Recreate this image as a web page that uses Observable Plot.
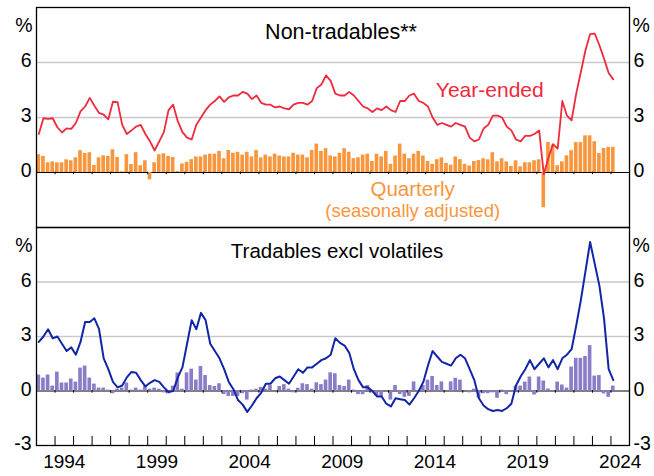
<!DOCTYPE html>
<html><head><meta charset="utf-8">
<script src="https://cdn.jsdelivr.net/npm/d3@7"></script>
<script src="https://cdn.jsdelivr.net/npm/@observablehq/plot@0.6"></script>
<style>
body{margin:0;background:#fff;}
#chart{width:654px;height:476px;font-family:"Liberation Sans",Arial,sans-serif;}
#chart svg{display:block;overflow:visible;}
</style></head><body><div id="chart"></div>
<script>
// Quarterly observations, first quarter = 1993 Q1
const startYear = 1993;
const nonTradYE = [2.1,2.96,2.93,2.96,2.47,2.18,2.41,2.38,2.7,3.33,3.6,4.07,3.64,3.25,3.16,2.9,3.86,3.84,
  2.6,2.1,2.3,2.5,2.6,2.1,1.7,1.2,1.7,2.2,3.4,3.7,2.8,2.2,
  1.9,1.8,2.6,3.0,3.4,3.7,3.9,4.15,3.85,4.1,4.2,4.2,4.4,4.3,4.0,4.2,
  3.8,3.7,3.7,3.55,3.6,3.5,3.45,3.7,3.8,3.8,3.7,3.9,4.6,4.8,5.3,5.0,
  4.3,4.2,4.2,4.4,4.2,3.9,3.6,3.5,3.3,3.5,3.4,3.6,3.4,3.3,3.9,3.9,
  4.2,4.3,3.9,3.8,3.6,3.0,2.6,2.7,2.6,2.5,2.7,2.6,2.5,1.9,1.7,1.8,
  2.4,2.6,3.1,3.1,3.0,2.5,2.3,1.8,1.7,2.0,2.0,2.1,2.3,
  -0.1,0.8,1.55,1.3,3.9,3.1,2.85,4.3,5.48,6.67,7.55,7.58,6.94,6.21,5.43,5.08];
const nonTradQ = [0.97,0.88,0.53,0.58,0.53,0.53,0.69,0.64,0.80,1.19,1.04,1.08,0.38,0.80,0.91,0.88,1.24,0.82,0.04,0.97,0.44,1.08,0.37,0.64,-0.40,0.53,0.97,1.02,0.88,0.82,0.05,0.47,
  0.55,0.7,0.85,0.85,0.95,1.0,1.0,1.15,0.75,1.2,1.05,1.1,0.95,1.1,0.85,1.2,
  0.8,0.95,0.85,1.0,0.9,0.85,0.85,1.05,0.95,0.95,0.8,1.2,1.55,1.15,1.3,0.9,
  0.85,1.05,1.3,1.1,0.75,0.8,0.95,1.0,0.6,1.0,0.85,1.15,0.45,0.9,1.55,1.0,
  0.75,1.0,1.15,0.9,0.6,0.45,0.7,0.8,0.5,0.4,0.85,0.7,0.45,0.35,0.6,0.65,
  0.75,0.69,1.08,0.58,0.75,0.58,0.33,0.64,0.31,0.53,0.53,0.64,0.69,
  -1.92,1.64,1.5,0.37,0.58,0.91,1.19,1.63,1.63,2.0,2.0,1.68,1.04,1.31,1.37,1.37];
const tradYE = [2.7,3.0,3.4,2.9,3.0,2.6,2.2,2.4,2.0,2.7,3.8,3.8,4.0,3.4,1.8,1.2,0.5,0.2,0.3,0.75,1.05,1.0,0.6,0.25,0.45,0.6,0.5,0.2,-0.05,0.0,0.75,1.3,
  2.6,3.9,3.4,4.3,3.9,2.6,2.2,1.8,1.2,0.5,0.1,-0.5,-0.75,-1.15,-0.8,-0.4,
  -0.1,0.4,0.4,0.7,0.8,0.6,0.4,0.8,1.2,1.0,1.3,1.3,1.5,1.7,1.8,2.0,
  2.9,2.65,2.5,2.1,1.2,0.6,0.2,0.2,0.0,-0.3,-0.3,-0.7,-0.85,-0.4,-0.45,-0.5,
  -0.75,-0.4,0.0,0.5,1.4,2.2,1.9,1.6,1.5,1.4,1.8,2.0,1.8,1.2,0.6,-0.4,
  -0.8,-1.0,-1.1,-1.05,-1.1,-0.95,-0.7,0.3,0.8,1.2,1.7,1.2,1.5,1.8,1.3,1.7,
  1.2,1.8,2.0,2.3,3.6,5.0,6.6,8.2,7.0,5.8,4.0,1.2,0.6];
const tradQ = [0.88,0.71,0.88,0.27,1.04,0.44,0.44,0.66,0.49,1.26,1.37,0.71,0.38,0.16,0.16,0.05,-0.15,0.1,0.16,0.44,0.05,0.16,0.05,0.27,0.1,0.16,0.1,-0.1,-0.16,0.27,0.99,0.1,
  1.0,1.2,0.6,1.35,0.85,0.3,0.25,0.4,-0.2,-0.3,-0.3,-0.3,-0.15,-0.5,0.05,0.1,
  0.2,0.1,0.3,0.0,0.25,0.35,0.1,-0.1,0.15,0.4,0.35,0.1,0.45,0.35,0.6,1.0,
  0.95,0.3,0.25,0.6,0.05,-0.2,-0.2,0.3,-0.1,-0.3,-0.3,0.0,-0.5,0.3,-0.2,-0.35,
  -0.3,0.5,0.0,0.3,0.6,0.8,0.3,0.5,0.0,0.5,0.7,0.6,0.0,-0.1,0.1,-0.4,
  -0.15,-0.15,-0.1,-0.4,0.05,-0.2,-0.05,0.27,0.27,0.49,0.77,-0.22,0.77,0.55,0.11,-0.05,
  0.49,0.33,0.16,1.32,1.8,1.8,1.9,2.5,0.82,0.85,-0.16,-0.35,0.27];
const yearLabels = [1994,1999,2004,2009,2014,2019,2024];
const yearTicks = d3.range(1994, 2025);
const topTicks = [0,3,6];
const bottomTicks = [-3,0,3,6];
const gridLines = [3,6];

const FONT = '"Liberation Sans", Arial, sans-serif';
const rowsOf = (ye, q) => ye.map((v, i) => ({t: startYear + i / 4, ye: v, q: q[i]}));

function panel(o) {
  const rows = rowsOf(o.ye, o.q);
  return Plot.plot({
    width: 654, height: o.height,
    marginLeft: 36, marginRight: 25, marginTop: o.marginTop, marginBottom: o.marginBottom,
    x: {domain: [1993, 2025], axis: null},
    y: {domain: [-3, 9], axis: null},
    style: {fontFamily: FONT, background: "white", overflow: "visible", color: "#000"},
    marks: [
      Plot.ruleY(gridLines, {y: d => d, stroke: "#c9c9c9", strokeWidth: 1.3}),
      Plot.ruleY([0], {y: d => d, stroke: "#000", strokeWidth: 1}),
      Plot.rect(rows, {x1: "t", x2: d => d.t + 0.25, y1: () => 0, y2: "q", fill: o.barColor, insetLeft: 0.5, insetRight: 0.5}),
      Plot.ruleX(yearTicks, {x: d => d, y1: () => 0.02, y2: () => -0.12, stroke: "#000", strokeWidth: 1}),
      Plot.line(rows, {x: d => d.t + 0.125, y: "ye", stroke: o.lineColor, strokeWidth: o.lineWidth, curve: "linear"}),
      Plot.frame({stroke: "#000", strokeWidth: 1.3}),
      Plot.text(o.ticks, {y: d => d, text: d => String(d), frameAnchor: "left", textAnchor: "end", dx: -5, dy: -1.5, fontSize: 19.5}),
      Plot.text(o.ticks, {y: d => d, text: d => String(d), frameAnchor: "right", textAnchor: "start", dx: 4, dy: -1.5, fontSize: 19.5}),
      Plot.text(["%"], {text: d => d, frameAnchor: "top-left", textAnchor: "end", dx: -4, dy: 11, fontSize: 19.5}),
      Plot.text(["%"], {text: d => d, frameAnchor: "top-right", textAnchor: "start", dx: 3, dy: 11, fontSize: 19.5}),
      Plot.text([o.title], {text: d => d, frameAnchor: "top", dx: o.titleDx, dy: 16, fontSize: o.titleSize}),
      ...o.extra(rows)
    ]
  });
}

const topChart = panel({
  ye: nonTradYE, q: nonTradQ, height: 227, marginTop: 7, marginBottom: 0,
  barColor: "#f7963c", lineColor: "#ef2a3c", lineWidth: 1.8, ticks: topTicks,
  title: "Non-tradables**", titleDx: 8, titleSize: 21.5,
  extra: () => [
    Plot.text(["Year-ended"], {x: () => 2014.55, y: () => 4.5, text: d => d, textAnchor: "start", fill: "#ef2a3c", fontSize: 21}),
    Plot.text(["Quarterly"], {x: () => 2013.3, y: () => -0.93, text: d => d, fill: "#f7963c", fontSize: 20.5}),
    Plot.text(["(seasonally adjusted)"], {x: () => 2013.3, y: () => -2.08, text: d => d, fill: "#f7963c", fontSize: 18.5})
  ]
});

const bottomChart = panel({
  ye: tradYE, q: tradQ, height: 249, marginTop: 0, marginBottom: 31,
  barColor: "#8a7cc6", lineColor: "#1225a6", lineWidth: 2, ticks: bottomTicks,
  title: "Tradables excl volatiles", titleDx: 4, titleSize: 20.5,
  extra: () => [
    Plot.ruleX(yearTicks, {x: d => d, y1: () => -3, y2: () => -2.5, stroke: "#000", strokeWidth: 1}),
    Plot.text(yearLabels, {x: d => d + 0.5, text: d => String(d), frameAnchor: "bottom", dy: 22.5, fontSize: 19})
  ]
});

const el = document.getElementById("chart");
el.appendChild(topChart);
el.appendChild(bottomChart);
</script>
</body></html>
